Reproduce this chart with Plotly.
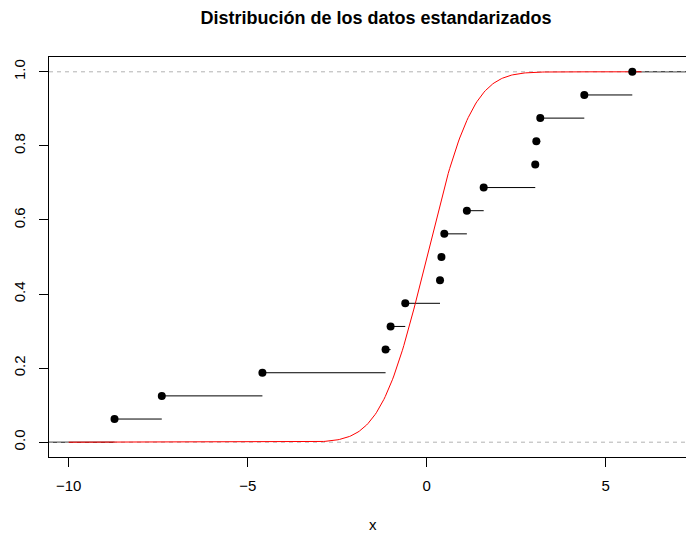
import math
import plotly.graph_objects as go

# Sorted standardized data
data_x = [-8.72, -7.40, -4.59, -1.15, -1.01, -0.60, 0.37, 0.41, 0.49,
          1.12, 1.59, 3.03, 3.06, 3.17, 4.40, 5.74]
n = len(data_x)
ecdf_y = [(i + 1) / n for i in range(n)]

x_ticks = [-10, -5, 0, 5]
y_ticks = [0.0, 0.2, 0.4, 0.6, 0.8, 1.0]

x_range = [-10.55, 7.24]
y_range = [-0.04, 1.04]

# Normal CDF curve (curve(pnorm, -10, 6))
curve_from, curve_to, curve_n = -10, 6, 401
cx = [curve_from + (curve_to - curve_from) * i / (curve_n - 1) for i in range(curve_n)]
cy = [0.5 * (1 + math.erf(v / math.sqrt(2))) for v in cx]

# ECDF horizontal steps
sx, sy = [x_range[0], data_x[0], None], [0, 0, None]
for i in range(n):
    x_end = data_x[i + 1] if i + 1 < n else x_range[1]
    sx += [data_x[i], x_end, None]
    sy += [ecdf_y[i], ecdf_y[i], None]

fig = go.Figure()
fig.add_trace(go.Scatter(x=sx, y=sy, mode="lines",
                         line=dict(color="black", width=1), hoverinfo="skip"))
for h in (0, 1):
    fig.add_trace(go.Scatter(x=x_range, y=[h, h], mode="lines",
                             line=dict(color="#b3b3b3", width=1, dash="4px,4px"),
                             hoverinfo="skip"))
fig.add_trace(go.Scatter(x=cx, y=cy, mode="lines",
                         line=dict(color="red", width=1)))
fig.add_trace(go.Scatter(x=data_x, y=ecdf_y, mode="markers",
                         marker=dict(color="black", size=8)))

font = "Liberation Sans, Arial, sans-serif"
W, H = 686, 533
ml, mt, mb = 49, 57, 76
fig.update_layout(
    width=W, height=H,
    margin=dict(l=ml, r=0, t=mt, b=mb, autoexpand=False),
    plot_bgcolor="white", paper_bgcolor="white",
    showlegend=False,
    font=dict(family=font, size=15, color="black"),
    title=dict(text="<b>Distribución de los datos estandarizados</b>",
               x=376 / W, xanchor="center", y=1 - 18 / H, yanchor="middle",
               font=dict(size=18, family=font, color="black")),
    xaxis=dict(range=x_range, tickvals=x_ticks, showgrid=False, zeroline=False,
               showline=True, mirror=True, linecolor="black", linewidth=1,
               ticks="outside", ticklen=9, tickcolor="black",
               ticklabelstandoff=6, automargin=False),
    yaxis=dict(range=y_range, tickvals=y_ticks, tickformat=".1f",
               showgrid=False, zeroline=False,
               showline=True, mirror=False, linecolor="black", linewidth=1,
               ticks="outside", ticklen=9, tickcolor="black",
               tickangle=-90, ticklabelstandoff=8, automargin=False),
    annotations=[dict(text="x", xref="paper", yref="paper",
                      x=(373 - ml) / (W - ml), y=-(524 - (H - mb)) / (H - mt - mb),
                      xanchor="center", yanchor="middle", showarrow=False,
                      font=dict(size=15, family=font, color="black"))],
)

fig.write_html("out.html", post_script="document.body.style.margin='0';",
               config={"displayModeBar": False})
